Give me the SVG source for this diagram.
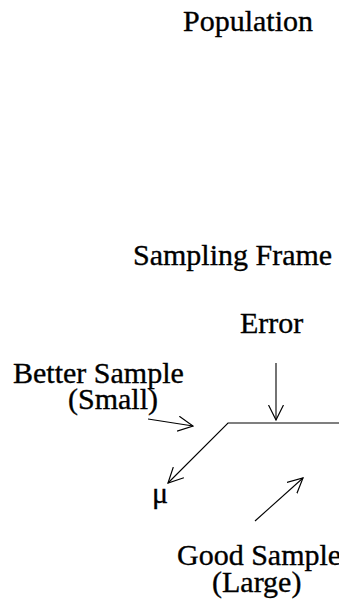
<svg xmlns="http://www.w3.org/2000/svg" width="339" height="603" viewBox="0 0 339 603">
<style>
.t{font-family:"Liberation Serif","Times New Roman",serif;font-size:30px;fill:#000;stroke:#000;stroke-width:0.35;}
.ln{stroke:#000;stroke-width:1.1;fill:none;}
</style>
<defs>
<marker id="ah" viewBox="0 0 16 16" markerUnits="userSpaceOnUse" markerWidth="16" markerHeight="16" refX="15" refY="8" orient="auto">
<path d="M0,0.5 L15,8 L0,15.5" fill="none" stroke="#000" stroke-width="1.2"/>
</marker>
</defs>
<rect width="339" height="603" fill="#fff"/>
<g id="population"><text class="t" x="183" y="31">Population</text></g>
<g id="sampling-frame"><text class="t" x="133" y="265">Sampling Frame</text></g>
<g id="error"><text class="t" x="240" y="333">Error</text></g>
<g id="better-sample"><text class="t" x="13" y="383">Better Sample</text><text class="t" x="68" y="409">(Small)</text></g>
<g id="mu"><text class="t" x="152" y="503">μ</text></g>
<g id="good-sample"><text class="t" x="177" y="565">Good Sample</text><text class="t" x="212" y="592">(Large)</text></g>
<g id="connectors">
<polyline class="ln" points="339,423 228,423 168,483" marker-end="url(#ah)"/>
<line class="ln" x1="276" y1="363" x2="276" y2="420" marker-end="url(#ah)"/>
<line class="ln" x1="148" y1="419" x2="193" y2="426" marker-end="url(#ah)"/>
<line class="ln" x1="255" y1="521" x2="303" y2="478" marker-end="url(#ah)"/>
</g>
</svg>
